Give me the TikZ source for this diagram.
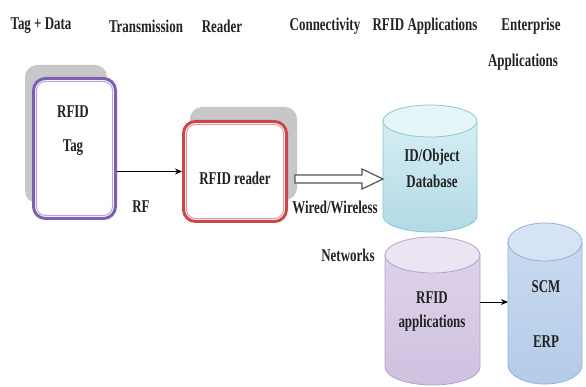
\documentclass[tikz,border=0pt]{standalone}
\usepackage{fontspec}
\usepackage{graphicx}
\setmainfont{Liberation Serif}
\usetikzlibrary{arrows.meta}
\definecolor{tagpur}{HTML}{7D5FB2}
\definecolor{tagpurl}{HTML}{B8A6D8}
\definecolor{rdred}{HTML}{C9474A}
\definecolor{rdredl}{HTML}{E39A9A}
\definecolor{shad}{HTML}{C7C7C7}
\definecolor{dbtopc}{HTML}{D6EEF4}
\definecolor{dbbot}{HTML}{B2DAE4}
\definecolor{dbend}{HTML}{E6F5F8}
\definecolor{dbline}{HTML}{8CC6D6}
\definecolor{aptopc}{HTML}{DDD2EA}
\definecolor{apbot}{HTML}{CFC1E0}
\definecolor{apend}{HTML}{EBE4F2}
\definecolor{apline}{HTML}{B3A2CC}
\definecolor{erptopc}{HTML}{C8DAF0}
\definecolor{erpbot}{HTML}{B4CBE8}
\definecolor{erpend}{HTML}{D6E3F4}
\definecolor{erpline}{HTML}{94B1D8}
\definecolor{txt}{HTML}{222222}
\definecolor{hollow}{HTML}{555555}
\newcommand{\tx}[1]{\scalebox{0.72}[1]{#1}}
% #1 node name, #2 x radius, #3 y radius, #4 top colour, #5 bottom colour, #6 end fill, #7 line colour
\newcommand{\cylinderdraw}[7]{%
  \path[draw=#7, line width=0.8pt, top color=#4, bottom color=#5]
    ([yshift=-#3pt]#1.north west) -- ([yshift=#3pt]#1.south west)
    arc[start angle=180, end angle=360, x radius=#2pt, y radius=#3pt]
    -- ([yshift=-#3pt]#1.north east) -- cycle;
  \filldraw[fill=#6, draw=#7, line width=0.8pt] ([yshift=-#3pt]#1.north) ellipse[x radius=#2pt, y radius=#3pt];
}
\begin{document}
\begin{tikzpicture}[x=1pt,y=-1pt,
  lbl/.style={font=\fontsize{18}{20}\selectfont\bfseries, text=txt, inner sep=0pt},
  shadowbox/.style={fill=shad, rounded corners=12pt, inner sep=0pt},
  mainbox/.style={fill=white, line width=3pt, rounded corners=12pt, inner sep=0pt},
  innerline/.style={line width=1pt, rounded corners=9pt},
  cylbox/.style={inner sep=0pt, outer sep=0pt},
  conn/.style={-{Stealth[length=7pt,width=6pt]}, line width=1pt, black},
  hollowarrow/.style={fill=white, draw=hollow, line width=1.2pt, line join=miter},
]
\useasboundingbox (0,0) rectangle (586,387);

% headers
\node[lbl] (h1) at (41,26) {\tx{Tag + Data}};
\node[lbl] (h2) at (146,26) {\tx{Transmission}};
\node[lbl] (h3) at (222,26) {\tx{Reader}};
\node[lbl] (h4) at (325,26) {\tx{Connectivity}};
\node[lbl] (h5) at (425,26) {\tx{RFID Applications}};
\node[lbl] (h6) at (531,26) {\tx{Enterprise}};
\node[lbl] (h7) at (523,62) {\tx{Applications}};

% tag
\node[shadowbox, minimum width=82pt, minimum height=138pt] (tagsh) at (66,134) {};
\node[mainbox, draw=tagpur, minimum width=82pt, minimum height=140pt] (tag) at (74.5,148.5) {};
\draw[innerline, tagpurl] ([shift={(4.5,4.5)}]tag.north west) rectangle ([shift={(-4.5,-4.5)}]tag.south east);
\node[lbl] (tagt1) at (73,112) {\tx{RFID}};
\node[lbl] (tagt2) at (73,148) {\tx{Tag}};

% reader
\node[shadowbox, minimum width=107pt, minimum height=93pt] (rsh) at (243.5,153.5) {};
\node[mainbox, draw=rdred, minimum width=103pt, minimum height=100pt] (reader) at (235,171.5) {};
\draw[innerline, rdredl] ([shift={(4.5,4.5)}]reader.north west) rectangle ([shift={(-4.5,-4.5)}]reader.south east);
\node[lbl] (readert) at (235,178) {\tx{RFID reader}};

% cylinders
\node[cylbox, minimum width=94pt, minimum height=127pt] (db) at (430,168.5) {};
\cylinderdraw{db}{47}{16}{dbtopc}{dbbot}{dbend}{dbline}
\node[cylbox, minimum width=95pt, minimum height=148pt] (app) at (432.5,311) {};
\cylinderdraw{app}{47.5}{18}{aptopc}{apbot}{apend}{apline}
\node[cylbox, minimum width=74pt, minimum height=161pt] (erp) at (545,303.5) {};
\cylinderdraw{erp}{37}{19}{erptopc}{erpbot}{erpend}{erpline}

\node[lbl] (dbt1) at (432,157) {\tx{ID/Object}};
\node[lbl] (dbt2) at (432,181) {\tx{Database}};
\node[lbl] (appt1) at (432,298) {\tx{RFID}};
\node[lbl] (appt2) at (432,323) {\tx{applications}};
\node[lbl] (erpt1) at (546,287) {\tx{SCM}};
\node[lbl] (erpt2) at (546,342) {\tx{ERP}};

% connectors
\draw[conn] (tag.east |- reader.west) -- (reader.west);
\node[lbl] (rf) at (141,207) {\tx{RF}};

\coordinate (ha) at (295,179);
\coordinate (hb) at (db.west |- ha);
\draw[hollowarrow] (ha) ++(0,-4) -- ++(67,0) -- ++(0,-6) -- (hb) -- ++(-21,10) -- ++(0,-6) -- ++(-67,0) -- cycle;
\node[lbl] (wired) at (335,207) {\tx{Wired/Wireless}};
\node[lbl] (netw) at (348,255) {\tx{Networks}};

\coordinate (aa) at ([yshift=9pt]app.east);
\draw[conn] (aa) -- (aa -| erp.west);
\end{tikzpicture}
\end{document}
